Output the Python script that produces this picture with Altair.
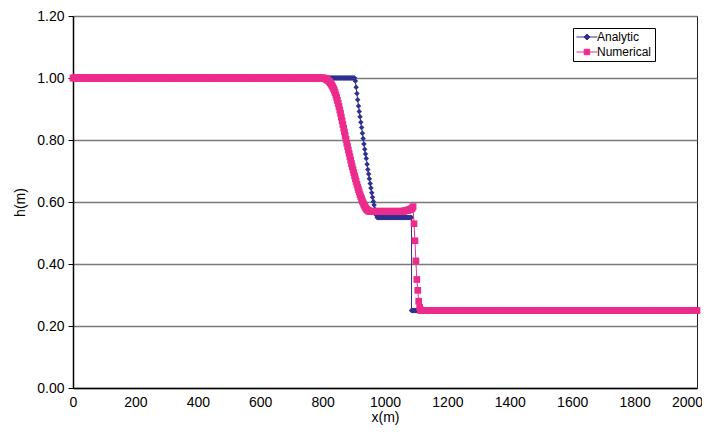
import altair as alt
import numpy as np
import pandas as pd

# ---------------- data ----------------
series_names = ["Analytic", "Numerical"]
series_colors = ["#2E3192", "#EC2C8C"]

x_ticks = [0, 200, 400, 600, 800, 1000, 1200, 1400, 1600, 1800, 2000]
y_ticks = [0.0, 0.2, 0.4, 0.6, 0.8, 1.0, 1.2]

grid_step = 2.5

# Analytic solution
ana_left_x = np.arange(0, 900.1, grid_step)          # h = 1.00
ana_left_h = 1.00
ana_rare_x = np.arange(902.5, 975.1, grid_step)
ana_rare_h = [1.0, 0.99, 0.97, 0.95, 0.93, 0.91, 0.892, 0.875, 0.857, 0.84,
              0.822, 0.805, 0.787, 0.77, 0.755, 0.74, 0.722, 0.705, 0.69, 0.675,
              0.66, 0.645, 0.63, 0.615, 0.602, 0.59, 0.577, 0.565, 0.557, 0.55]
ana_mid_x = np.arange(977.5, 1085.1, grid_step)      # h = 0.55
ana_mid_h = 0.55
ana_right_x = np.arange(1085, 2000.1, grid_step)     # h = 0.25
ana_right_h = 0.25

# Numerical solution
num_left_x = np.arange(0, 797.6, grid_step)          # h = 1.00
num_left_h = 1.00
num_trans_x = np.arange(800, 950.1, grid_step)
num_trans_h = [1.0, 1.0, 0.999, 0.998, 0.997, 0.996, 0.994, 0.992, 0.99, 0.987,
               0.984, 0.98, 0.976, 0.971, 0.966, 0.96, 0.953, 0.945, 0.937, 0.928,
               0.918, 0.908, 0.897, 0.886, 0.874, 0.862, 0.85, 0.838, 0.826, 0.814,
               0.802, 0.79, 0.779, 0.768, 0.757, 0.746, 0.735, 0.724, 0.714, 0.704,
               0.694, 0.684, 0.675, 0.666, 0.657, 0.648, 0.64, 0.632, 0.624, 0.617,
               0.61, 0.603, 0.597, 0.591, 0.586, 0.582, 0.578, 0.575, 0.573, 0.571,
               0.57]
num_plateau_x = np.arange(952.5, 1060.1, grid_step)  # h = 0.57
num_plateau_h = 0.57
num_end_x = np.arange(1062.5, 1087.6, grid_step)
num_end_h = [0.571, 0.572, 0.572, 0.573, 0.573, 0.574, 0.575, 0.576, 0.577, 0.578, 0.58]
num_shock_x = [1090, 1093, 1096, 1099, 1102, 1105, 1108, 1111, 1114]
num_shock_h = [0.585, 0.53, 0.475, 0.41, 0.35, 0.315, 0.28, 0.26, 0.252]
num_right_x = np.arange(1115, 2000.1, grid_step)     # h = 0.25
num_right_h = 0.25

# ---------------- table ----------------
rows = []


def add(series, xs, hs):
    xs = list(xs)
    if np.isscalar(hs):
        hs = [hs] * len(xs)
    assert len(xs) == len(hs), (series, len(xs), len(hs))
    for xv, hv in zip(xs, hs):
        rows.append({"series": series, "x": float(xv), "h": float(hv), "i": len(rows)})


add("Analytic", ana_left_x, ana_left_h)
add("Analytic", ana_rare_x, ana_rare_h)
add("Analytic", ana_mid_x, ana_mid_h)
add("Analytic", ana_right_x, ana_right_h)
add("Numerical", num_left_x, num_left_h)
add("Numerical", num_trans_x, num_trans_h)
add("Numerical", num_plateau_x, num_plateau_h)
add("Numerical", num_end_x, num_end_h)
add("Numerical", num_shock_x, num_shock_h)
add("Numerical", num_right_x, num_right_h)

df = pd.DataFrame(rows)

FONT = "Liberation Sans"

x_enc = alt.X(
    "x:Q",
    scale=alt.Scale(domain=[0, 2000], nice=False, zero=False),
    axis=alt.Axis(values=x_ticks, format="d", title="x(m)", grid=False,
                  ticks=False, labelPadding=7, titlePadding=1,
                  labelFlush=False,
                  labelOffset={"condition": {"test": "datum.value == 2000", "value": -10},
                               "value": 0}),
)
y_enc = alt.Y(
    "h:Q",
    scale=alt.Scale(domain=[0, 1.2], nice=False),
    axis=alt.Axis(values=y_ticks, format=".2f", title="h(m)", grid=True,
                  tickSize=5, labelPadding=4, titlePadding=9),
)

base = alt.Chart(df).encode(x=x_enc, y=y_enc, order=alt.Order("i:Q"))

ana = base.transform_filter("datum.series == 'Analytic'")
num = base.transform_filter("datum.series == 'Numerical'")

ana_line = ana.mark_line(color=series_colors[0], strokeWidth=1)
ana_pts = ana.mark_point(shape="diamond", filled=True, size=30,
                         color=series_colors[0], opacity=1)
num_line = num.mark_line(color=series_colors[1], strokeWidth=1)
num_pts = num.mark_point(shape="square", filled=True, size=45,
                         color=series_colors[1], opacity=1)

legend_paths = [
    "M-1,0H2.8M0.9,-0.55L1.45,0L0.9,0.55L0.35,0Z",
    "M-1,0H2.8M0.4,-0.5H1.4V0.5H0.4Z",
]


def lg():
    return alt.Legend(
        title=None, orient="none", legendX=500, legendY=12,
        padding=3, strokeColor="black", fillColor="white",
        symbolSize=121, symbolStrokeWidth=1, symbolOpacity=1,
        labelFont=FONT, labelFontSize=12, labelColor="black",
        labelOffset=9, rowPadding=3,
    )


legend_layer = alt.Chart(df).transform_filter("false").mark_point(
    opacity=1, strokeWidth=1
).encode(
    x=x_enc, y=y_enc,
    fill=alt.Fill("series:N", scale=alt.Scale(domain=series_names, range=series_colors), legend=lg()),
    stroke=alt.Stroke("series:N", scale=alt.Scale(domain=series_names, range=series_colors), legend=lg()),
    shape=alt.Shape("series:N", scale=alt.Scale(domain=series_names, range=legend_paths), legend=lg()),
)

chart = alt.layer(ana_line, ana_pts, num_line, num_pts, legend_layer).properties(
    width=624, height=372,
    autosize=alt.AutoSizeParams(type="none"),
    padding={"left": 65, "top": 8, "right": 5, "bottom": 38},
).configure_view(
    stroke="#222222", strokeWidth=1
).configure_axis(
    labelFont=FONT, labelFontSize=14, labelColor="black",
    titleFont=FONT, titleFontSize=14, titleFontWeight="normal", titleColor="black",
    domainColor="black", domainWidth=1.5, tickColor="black", tickWidth=1,
    gridColor="#7a7a7a", gridWidth=1.5,
)

chart.save("out.html", embed_options={"renderer": "svg", "actions": False})
